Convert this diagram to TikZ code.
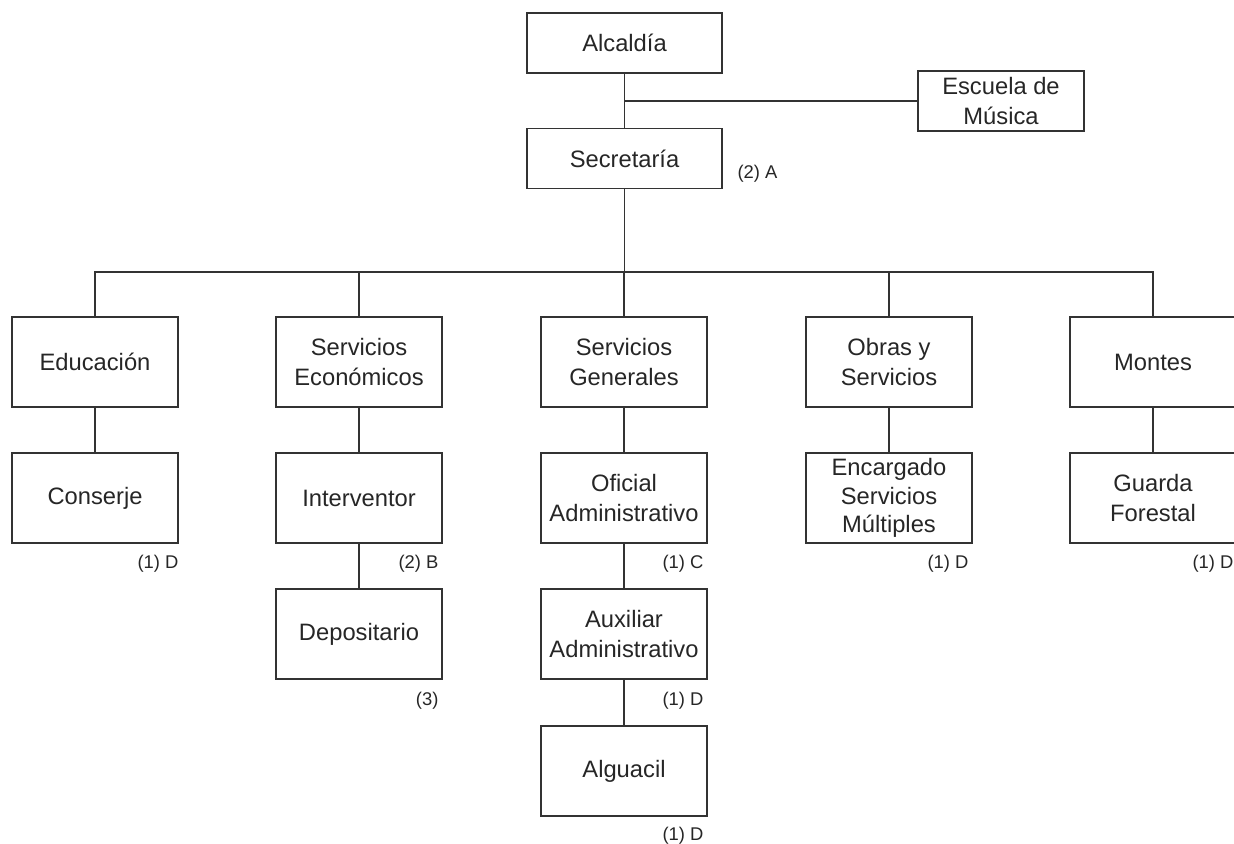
\documentclass[tikz,border=0pt]{standalone}
\usepackage{fontspec}
\setmainfont{Liberation Sans}
\begin{document}
\begin{tikzpicture}[x=0.75pt,y=-0.75pt,
  line width=0.8pt, draw=black!80,
  box/.style={draw=black!80, line width=0.8pt, rectangle, inner sep=0pt,
    minimum width=124.5pt, minimum height=67.5pt, align=center,
    font=\fontsize{17.8}{23}\selectfont, text=black!85},
  tightbox/.style={box, font=\fontsize{17.8}{21.4}\selectfont},
  topbox/.style={box, minimum width=146.25pt, minimum height=45pt},
  escbox/.style={box, minimum height=45pt},
  lab/.style={inner sep=0pt, font=\fontsize{13.8}{16}\selectfont, text=black!85}]
\useasboundingbox (0,0) rectangle (1234,843);
\clip (0,0) rectangle (1234,843);
% top
\node[topbox] (al) at (624.5,43) {Alcaldía};
\node[escbox] (esc) at (1001,101) {Escuela de\\Música};
\node[topbox] (sec) at (624.5,158.5) {Secretaría};
\node[lab, anchor=base west] (secl) at (737,178) {(2) A};
% row 1
\node[box] (edu) at (95,362) {Educación};
\node[box] (seco) at (359,362) {Servicios\\Económicos};
\node[box] (sgen) at (624,362) {Servicios\\Generales};
\node[box] (obras) at (889,362) {Obras y\\Servicios};
\node[box] (montes) at (1153,362) {Montes};
% row 2
\node[box] (cons) at (95,498) {Conserje};
\node[box] (interv) at (359,498) {Interventor};
\node[box] (ofi) at (624,498) {Oficial\\Administrativo};
\node[tightbox] (enc) at (889,498) {Encargado\\Servicios\\Múltiples};
\node[box] (guarda) at (1153,498) {Guarda\\Forestal};
% row 3
\node[box] (depo) at (359,634) {Depositario};
\node[box] (aux) at (624,634) {Auxiliar\\Administrativo};
% row 4
\node[box] (alg) at (624,771) {Alguacil};
% labels
\node[lab, anchor=base east] (consl) at (179,568) {(1) D};
\node[lab, anchor=base east] (intervl) at (439,568) {(2) B};
\node[lab, anchor=base east] (ofil) at (704,568) {(1) C};
\node[lab, anchor=base east] (encl) at (969,568) {(1) D};
\node[lab, anchor=base east] (guardal) at (1234,568) {(1) D};
\node[lab, anchor=base east] (depol) at (439,705) {(3)};
\node[lab, anchor=base east] (auxl) at (704,705) {(1) D};
\node[lab, anchor=base east] (algl) at (704,840) {(1) D};
% connectors
\coordinate (j) at (624.5,101);
\coordinate (bus) at (624,272);
\draw (al) -- (sec);
\draw (j) -- (esc.west);
\draw (sec.south) -- (sec.south |- bus);
\draw (edu.north) |- (bus) -| (montes.north);
\draw (seco.north) -- (seco.north |- bus);
\draw (sgen.north) -- (sgen.north |- bus);
\draw (obras.north) -- (obras.north |- bus);
\draw (edu) -- (cons);
\draw (seco) -- (interv);
\draw (sgen) -- (ofi);
\draw (obras) -- (enc);
\draw (montes) -- (guarda);
\draw (interv) -- (depo);
\draw (ofi) -- (aux);
\draw (aux) -- (alg);
\end{tikzpicture}
\end{document}
